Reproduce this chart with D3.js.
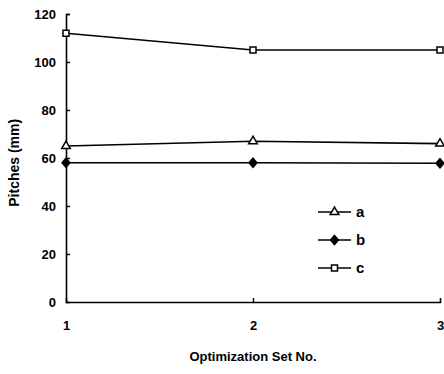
<!DOCTYPE html>
<html>
<head>
<meta charset="utf-8">
<script src="https://cdn.jsdelivr.net/npm/d3@7"></script>
<style>
  body { margin: 0; background: #fff; }
  text { font-family: "Liberation Sans", Arial, sans-serif; font-weight: bold; fill: #000; }
</style>
</head>
<body>
<div id="chart"></div>
<script>
// data
var sets = [1, 2, 3]
var seriesNames = ["a", "b", "c"]
var valuesA = [65, 67, 66]
var valuesB = [58, 58, 57.8]
var valuesC = [112, 105, 105]
var yTicks = [0, 20, 40, 60, 80, 100, 120]

var W = 444, H = 374
var margin = {top: 14, right: 4, bottom: 72, left: 66}

var svg = d3.select("#chart").append("svg")
  .attr("width", W).attr("height", H)

var x = d3.scaleLinear().domain([1, 3]).range([margin.left, W - margin.right])
var y = d3.scaleLinear().domain([0, 120]).range([H - margin.bottom, margin.top])

// axes (ticks point inward)
var yAxis = svg.append("g")
  .attr("transform", "translate(" + margin.left + ",0)")
  .call(d3.axisLeft(y).tickValues(yTicks).tickSize(-4).tickPadding(10))
var xAxis = svg.append("g")
  .attr("transform", "translate(0," + (H - margin.bottom) + ")")
  .call(d3.axisBottom(x).tickValues(sets).tickSize(-4).tickPadding(19).tickFormat(d3.format("d")))

svg.selectAll(".domain").attr("stroke", "#000").attr("stroke-width", 1.6)
svg.selectAll(".tick line").attr("stroke", "#000").attr("stroke-width", 1.4)
svg.selectAll(".tick text")
  .style("font-family", "'Liberation Sans', Arial, sans-serif")
  .style("font-weight", "bold").style("font-size", "13px").attr("fill", "#000")
// hide the edge tick marks that sit on the other axis
xAxis.selectAll(".tick line").filter(d => d !== 2).remove()
yAxis.selectAll(".tick line").filter(d => d === 0).remove()

// titles
svg.append("text")
  .attr("x", x(2)).attr("y", 361)
  .attr("text-anchor", "middle").style("font-size", "13px")
  .text("Optimization Set No.")
svg.append("text")
  .attr("transform", "translate(19," + y(58) + ") rotate(-90)")
  .attr("text-anchor", "middle").style("font-size", "14px")
  .text("Pitches (mm)")

var line = d3.line().x((d, i) => x(sets[i])).y(d => y(d))
var diamond = {
  draw: function (ctx, size) {
    var w = Math.sqrt(size) * 0.62, h = Math.sqrt(size) * 0.72
    ctx.moveTo(0, -h); ctx.lineTo(w, 0); ctx.lineTo(0, h); ctx.lineTo(-w, 0); ctx.closePath()
  }
}
var series = [
  {name: "a", values: valuesA, symbol: d3.symbolTriangle, fill: "#fff", size: 32},
  {name: "b", values: valuesB, symbol: diamond, fill: "#000", size: 40},
  {name: "c", values: valuesC, symbol: d3.symbolSquare, fill: "#fff", size: 36}
]

series.forEach(function (s) {
  svg.append("path")
    .datum(s.values)
    .attr("d", line)
    .attr("fill", "none").attr("stroke", "#000").attr("stroke-width", 1.6)
  svg.selectAll(".m-" + s.name)
    .data(s.values)
    .enter().append("path")
    .attr("class", "m-" + s.name)
    .attr("transform", (d, i) => "translate(" + x(sets[i]) + "," + y(d) + ")")
    .attr("d", d3.symbol().type(s.symbol).size(s.size))
    .attr("fill", s.fill).attr("stroke", "#000").attr("stroke-width", 1.5)
})

// legend
var legend = svg.append("g").attr("transform", "translate(318,212)")
series.forEach(function (s, i) {
  var g = legend.append("g").attr("transform", "translate(0," + i * 28 + ")")
  g.append("line").attr("x1", 0).attr("x2", 33).attr("y1", 0).attr("y2", 0)
    .attr("stroke", "#000").attr("stroke-width", 1.6)
  g.append("path").attr("transform", "translate(16.5,0)")
    .attr("d", d3.symbol().type(s.symbol).size(s.size))
    .attr("fill", s.fill).attr("stroke", "#000").attr("stroke-width", 1.5)
  g.append("text").attr("x", 38).attr("y", 5).style("font-size", "15px").text(s.name)
})
</script>
</body>
</html>
